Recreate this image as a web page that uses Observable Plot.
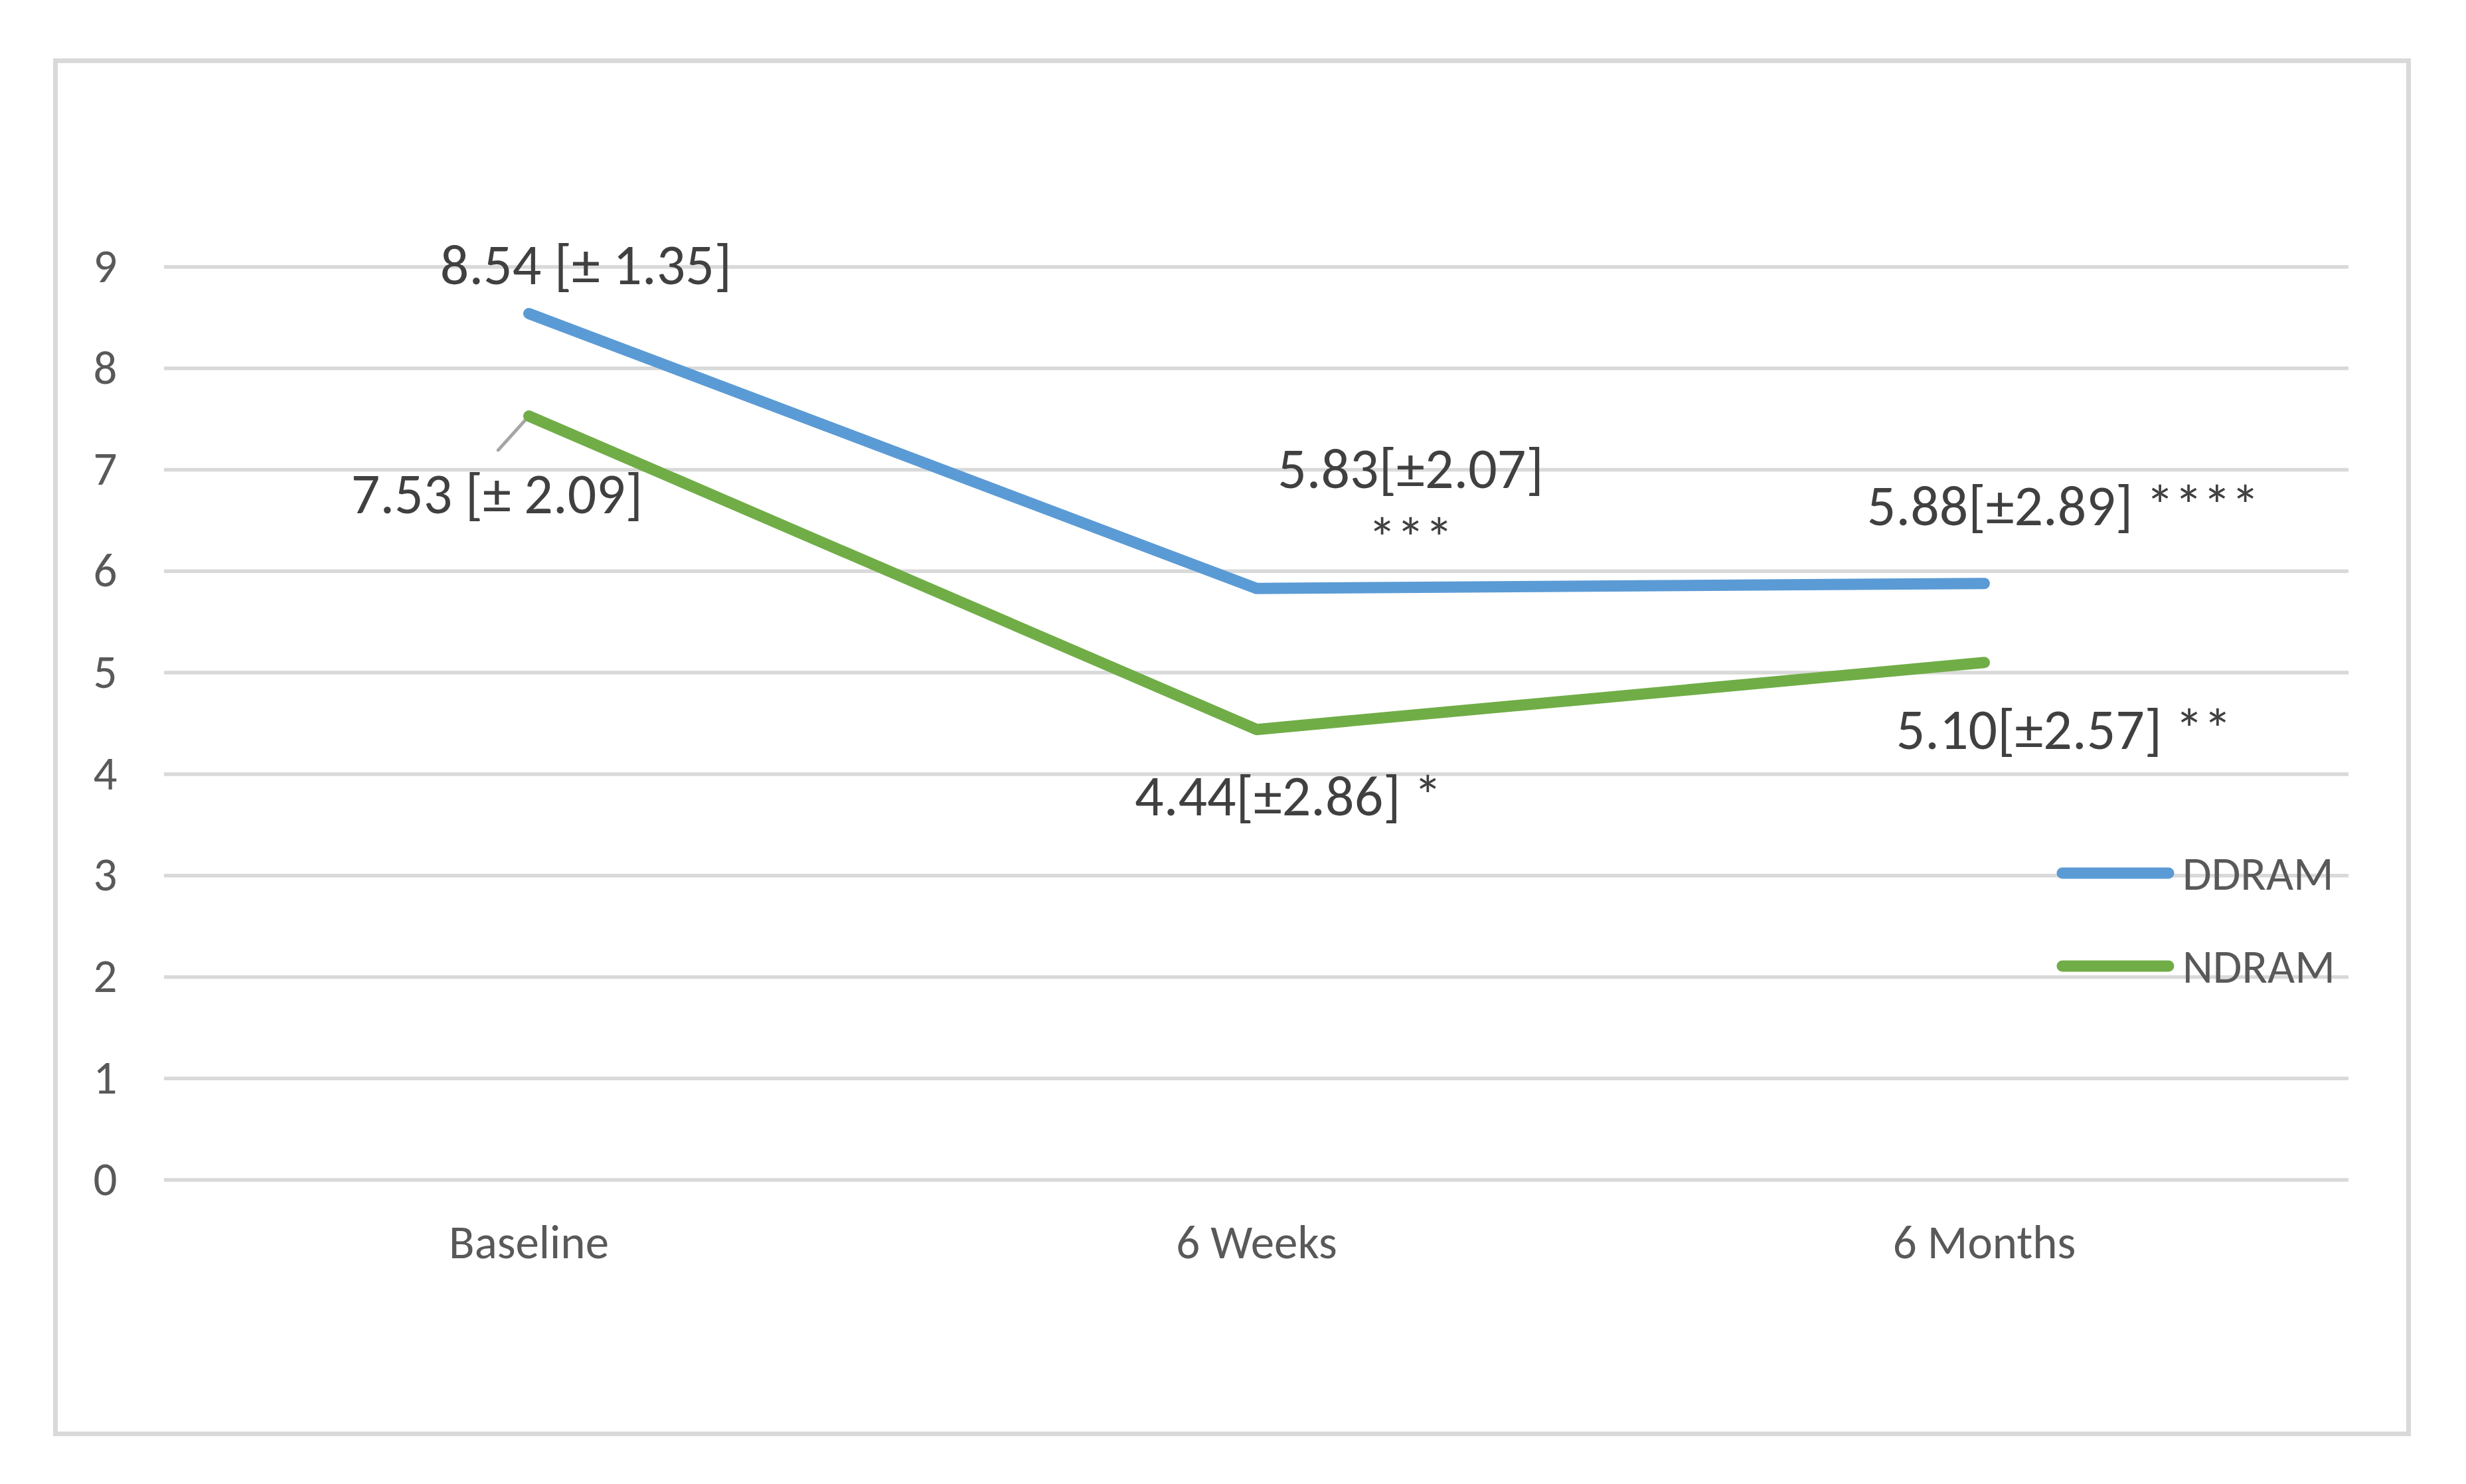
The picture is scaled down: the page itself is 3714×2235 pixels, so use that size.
<!DOCTYPE html>
<html>
<head>
<meta charset="utf-8">
<script src="https://cdn.jsdelivr.net/npm/d3@7"></script>
<script src="https://cdn.jsdelivr.net/npm/@observablehq/plot@0.6"></script>
<style>
  html, body { margin: 0; padding: 0; background: #ffffff; }
  #wrap { position: relative; width: 3714px; height: 2235px; overflow: hidden; background: #ffffff; }
  #border { position: absolute; left: 80px; top: 88px; width: 3551px; height: 2075px;
            border: 7px solid #d9d9d9; box-sizing: border-box; }
  #chart { position: absolute; left: 0; top: 0; }
  #legend { position: absolute; left: 3097px; top: 1275px; display: grid; row-gap: 60px;
            font-family: Carlito, Lato, sans-serif; font-size: 71px; color: #595959; }
  .item { display: flex; align-items: center; height: 80px; line-height: 1; }
  .item svg { margin-right: 12px; display: block; }
</style>
</head>
<body>
<div id="wrap">
  <div id="border"></div>
  <div id="chart"></div>
  <div id="legend"></div>
</div>
<script>
// ---- data ----
const categories = ["Baseline", "6 Weeks", "6 Months"];
const series = ["DDRAM", "NDRAM"];
const ddram = [8.54, 5.83, 5.88];
const ndram = [7.53, 4.44, 5.10];
const ddramLabels = ["8.54 [± 1.35]", "5.83[±2.07]\n***", "5.88[±2.89] ****"];
const ndramLabels = ["7.53 [± 2.09]", "4.44[±2.86] *", "5.10[±2.57] **"];
const yTicks = [0, 1, 2, 3, 4, 5, 6, 7, 8, 9];
const colors = ["#5B9BD5", "#70AD47"];

// ---- table built from the arrays ----
const rows = [];
series.forEach((s, si) => {
  const vals = si === 0 ? ddram : ndram;
  const labs = si === 0 ? ddramLabels : ndramLabels;
  categories.forEach((c, ci) => rows.push({series: s, time: c, value: vals[ci], label: labs[ci]}));
});

// ---- label layout (pixel offsets from each point) ----
const labelOffsets = {
  "DDRAM|Baseline": [86, -44],
  "NDRAM|Baseline": [-48, 146],
  "DDRAM|6 Weeks": [232, -46],
  "NDRAM|6 Weeks": [48, 129],
  "DDRAM|6 Months": [119, -88],
  "NDRAM|6 Months": [120, 130]
};

const labelMarks = rows.map(r => {
  const [dx, dy] = labelOffsets[r.series + "|" + r.time];
  return Plot.text([r], {
    x: "time", y: "value", text: "label", dx, dy,
    textAnchor: "middle", lineAnchor: "bottom", lineHeight: 1.22,
    fontSize: 86, fill: "#404040"
  });
});

const leaderShape = {
  draw(context, length) { context.moveTo(0, 0); context.lineTo(0, -length); }
};

const chart = Plot.plot({
  width: 3714,
  height: 2235,
  marginLeft: 247,
  marginRight: 177,
  marginTop: 401.5,
  marginBottom: 458.5,
  style: {fontFamily: "Carlito, Lato, sans-serif", fontSize: "71px", color: "#595959", background: "transparent"},
  x: {type: "point", domain: categories, padding: 0.5, label: null},
  y: {domain: [0, 9], label: null},
  color: {domain: series, range: colors},
  marks: [
    Plot.ruleY(yTicks, {stroke: "#d9d9d9", strokeWidth: 5.5}),
    Plot.axisY({ticks: yTicks, tickSize: 0, tickPadding: 71, fontSize: 71, label: null}),
    Plot.axisX({tickSize: 0, tickPadding: 68, fontSize: 71, label: null}),
    Plot.vector(rows.filter(d => d.series === "NDRAM" && d.time === "Baseline"), {
      x: "time", y: "value", length: 69, rotate: 222, anchor: "start",
      shape: leaderShape, stroke: "#a6a6a6", strokeWidth: 5
    }),
    Plot.line(rows, {x: "time", y: "value", z: "series", stroke: "series",
      strokeWidth: 17, strokeLinecap: "round", strokeLinejoin: "round"}),
    ...labelMarks
  ]
});
document.getElementById("chart").appendChild(chart);

// ---- legend ----
const legend = document.getElementById("legend");
series.forEach((s, i) => {
  const item = document.createElement("div");
  item.className = "item";
  item.innerHTML = `<svg width="178" height="20"><line x1="9" y1="10" x2="169" y2="10" stroke="${colors[i]}" stroke-width="17" stroke-linecap="round"/></svg><span>${s}</span>`;
  legend.appendChild(item);
});
</script>
</body>
</html>
